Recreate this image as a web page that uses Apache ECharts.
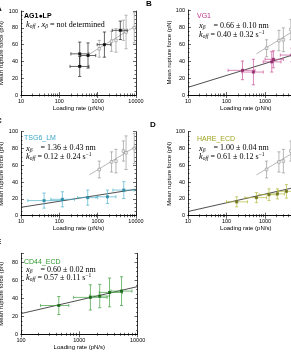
<!DOCTYPE html>
<html>
<head>
<meta charset="utf-8">
<script src="https://cdn.jsdelivr.net/npm/echarts@6/dist/echarts.min.js"></script>
<style>
  html, body { margin: 0; padding: 0; background: #fff; }
  #chart { width: 291px; height: 353px; }
</style>
</head>
<body>
<div id="chart"></div>
<script>
const SANS = "Liberation Sans, Arial, sans-serif"
const SERIF = "Liberation Serif, Times New Roman, serif"

// grey reference set, repeated behind panels A-D
const greyRate = [1100, 2300, 3000, 4700, 5500, 9000]
const greyForce = [55, 64, 65, 77, 75, 80]
const greyErr = [10, 12, 14, 12, 20, 18]
const greyFitRate = [600, 10000]
const greyFitForce = [48.5, 82.5]

// A: AG1•LP
const agRate = [340, 340, 560, 1500, 3900]
const agForce = [49, 34, 47, 60, 77]
const agErr = [14, 12, 15, 15, 11]
const agLo = [200, 190, 360, 970, 2400]
const agHi = [590, 590, 890, 2200, 5900]

// B: VG1
const vgRate = [260, 500, 1500, 1650, 5000]
const vgForce = [29, 27, 39, 42, 47]
const vgErr = [11, 15, 12, 10, 8]
const vgLo = [110, 250, 900, 1000, 2500]
const vgHi = [550, 900, 2600, 3000, 11000]
const vgFitRate = [10, 10000]
const vgFitForce = [9, 51]

// C: TSG6_LM
const tsgRate = [40, 120, 550, 1800, 4800]
const tsgForce = [18, 19.5, 21.5, 22.5, 30.5]
const tsgErr = [9, 9, 9, 8, 10]
const tsgLo = [15, 60, 300, 900, 2500]
const tsgHi = [110, 250, 1000, 3000, 9000]
const tsgFitRate = [10, 10000]
const tsgFitForce = [10, 31.5]

// D: HARE_ECD
const hareRate = [184, 600, 1270, 2100, 3600]
const hareForce = [16.5, 21.5, 25, 26, 29]
const hareErr = [6, 6, 7, 6, 8]
const hareLo = [100, 300, 700, 1200, 2200]
const hareHi = [350, 1100, 2000, 3200, 6000]
const hareFitRate = [10, 10000]
const hareFitForce = [5, 36]

// E: CD44_ECD
const cdRate = [445, 1550, 2240, 3300, 5300]
const cdForce = [32, 41, 42.5, 46.5, 48]
const cdErr = [10, 14, 13, 16, 16]
const cdLo = [216, 800, 1500, 2200, 3500]
const cdHi = [660, 3000, 3300, 5500, 8000]
const cdFitRate = [100, 10000]
const cdFitForce = [23, 53]

function pairs(xs, ys) {
  return xs.map((x, i) => [x, ys[i]])
}

function bars(rate, force, err, lo, hi) {
  return rate.map((r, i) => [r, force[i], force[i] - err[i], force[i] + err[i], lo ? lo[i] : r, hi ? hi[i] : r])
}

function errorBars(params, api) {
  const x = api.value(0)
  const y = api.value(1)
  const a = api.coord([x, api.value(2)])
  const b = api.coord([x, api.value(3)])
  const c = api.coord([api.value(4), y])
  const d = api.coord([api.value(5), y])
  const st = { stroke: api.visual("color"), lineWidth: 0.7 }
  const cap = 1.6
  const kids = [
    { type: "line", shape: { x1: a[0], y1: a[1], x2: b[0], y2: b[1] }, style: st },
    { type: "line", shape: { x1: a[0] - cap, y1: a[1], x2: a[0] + cap, y2: a[1] }, style: st },
    { type: "line", shape: { x1: b[0] - cap, y1: b[1], x2: b[0] + cap, y2: b[1] }, style: st }
  ]
  if (d[0] - c[0] > 1) {
    kids.push({ type: "line", shape: { x1: c[0], y1: c[1], x2: d[0], y2: d[1] }, style: st })
    kids.push({ type: "line", shape: { x1: c[0], y1: c[1] - cap, x2: c[0], y2: c[1] + cap }, style: st })
    kids.push({ type: "line", shape: { x1: d[0], y1: d[1] - cap, x2: d[0], y2: d[1] + cap }, style: st })
  }
  return { type: "group", children: kids }
}

// panels B and D run past the right edge, as in the cropped original
const grids = [
  { left: 21, top: 11, width: 115, height: 84, outerBoundsMode: "none", containLabel: false },
  { left: 188, top: 10, width: 115.5, height: 85, outerBoundsMode: "none", containLabel: false },
  { left: 21, top: 131.7, width: 115, height: 84, outerBoundsMode: "none", containLabel: false },
  { left: 188, top: 131.7, width: 115.5, height: 84, outerBoundsMode: "none", containLabel: false },
  { left: 21, top: 253.3, width: 116.6, height: 81, outerBoundsMode: "none", containLabel: false }
]
const xRange = [[10, 10000], [10, 10000], [10, 10000], [10, 10000], [100, 10000]]
const yMax = [100, 100, 100, 100, 90]
const yNameGap = [17, 11, 17, 11, 17]

const line = { color: "#000", width: 0.8 }
const tickStyle = { color: "#000", width: 0.6 }

const xAxis = []
const yAxis = []
grids.forEach((g, i) => {
  const base = {
    type: "log", logBase: 10, gridIndex: i, min: xRange[i][0], max: xRange[i][1],
    axisLine: { lineStyle: line },
    axisTick: { inside: true, length: 3, lineStyle: tickStyle },
    minorTick: { show: true, splitNumber: 9, length: 1.5, lineStyle: tickStyle },
    splitLine: { show: false }
  }
  xAxis.push(Object.assign({}, base, {
    position: "bottom",
    axisLabel: { fontSize: 5.5, fontFamily: SANS, color: "#000", margin: 3, formatter: (v) => String(Math.round(v)) },
    name: "Loading rate (pN/s)", nameLocation: "middle", nameGap: 9,
    nameTextStyle: { fontSize: 6, fontFamily: SANS, color: "#000" }
  }))
  xAxis.push(Object.assign({}, base, { position: "top", axisLabel: { show: false } }))
  const ybase = {
    type: "value", gridIndex: i, min: 0, max: yMax[i], interval: 20,
    axisLine: { lineStyle: line },
    axisTick: { inside: true, length: 3, lineStyle: tickStyle },
    minorTick: { show: true, splitNumber: 4, length: 1.5, lineStyle: tickStyle },
    splitLine: { show: false }
  }
  yAxis.push(Object.assign({}, ybase, {
    position: "left",
    axisLabel: { fontSize: 5.5, fontFamily: SANS, color: "#000", margin: 3, showMaxLabel: yMax[i] === 100 },
    name: "Mean rupture force (pN)", nameLocation: "middle", nameGap: yNameGap[i],
    nameTextStyle: { fontSize: 6, fontFamily: SANS, color: "#000" }
  }))
  yAxis.push(Object.assign({}, ybase, { position: "right", axisLabel: { show: false } }))
})

const series = []
function addPanel(i, opts) {
  const ax = { xAxisIndex: 2 * i, yAxisIndex: 2 * i }
  if (opts.grey) {
    series.push(Object.assign({ type: "line", data: pairs(greyFitRate, greyFitForce), symbol: "none",
      lineStyle: { color: "#9a9a9a", width: 0.7 }, z: 2 }, ax))
    series.push(Object.assign({ type: "custom", renderItem: errorBars, itemStyle: { color: "#9a9a9a" },
      data: bars(greyRate, greyForce, greyErr), z: 3 }, ax))
    series.push(Object.assign({ type: "scatter", data: pairs(greyRate, greyForce), symbol: "rect", symbolSize: 2.6,
      itemStyle: { color: "#fff", borderColor: "#777", borderWidth: 0.6 }, z: 4 }, ax))
  }
  if (opts.fitRate) {
    series.push(Object.assign({ type: "line", data: pairs(opts.fitRate, opts.fitForce), symbol: "none",
      lineStyle: { color: "#222", width: 0.8 }, z: 5 }, ax))
  }
  series.push(Object.assign({ type: "custom", renderItem: errorBars, itemStyle: { color: opts.barColor },
    data: bars(opts.rate, opts.force, opts.err, opts.lo, opts.hi), z: 6 }, ax))
  series.push(Object.assign({ type: "scatter", data: pairs(opts.rate, opts.force), symbol: "rect", symbolSize: 3,
    itemStyle: { color: opts.dotColor }, z: 7 }, ax))
}

addPanel(0, { grey: true, rate: agRate, force: agForce, err: agErr, lo: agLo, hi: agHi, barColor: "#222", dotColor: "#000" })
addPanel(1, { grey: true, rate: vgRate, force: vgForce, err: vgErr, lo: vgLo, hi: vgHi, fitRate: vgFitRate, fitForce: vgFitForce, barColor: "#c8509a", dotColor: "#8a1f62" })
addPanel(2, { grey: true, rate: tsgRate, force: tsgForce, err: tsgErr, lo: tsgLo, hi: tsgHi, fitRate: tsgFitRate, fitForce: tsgFitForce, barColor: "#4fb3cf", dotColor: "#1d7e98" })
addPanel(3, { grey: true, rate: hareRate, force: hareForce, err: hareErr, lo: hareLo, hi: hareHi, fitRate: hareFitRate, fitForce: hareFitForce, barColor: "#b4ba3a", dotColor: "#5f6410" })
addPanel(4, { grey: false, rate: cdRate, force: cdForce, err: cdErr, lo: cdLo, hi: cdHi, fitRate: cdFitRate, fitForce: cdFitForce, barColor: "#3f9f3f", dotColor: "#125d12" })

const rich = {
  i: { fontFamily: SERIF, fontStyle: "italic", fontSize: 8.5, fill: "#000" },
  s: { fontFamily: SERIF, fontStyle: "italic", fontSize: 5.5, fill: "#000", padding: [4, 0, 0, 0] },
  t: { fontFamily: SERIF, fontSize: 8, fill: "#000" },
  u: { fontFamily: SERIF, fontSize: 5.5, fill: "#000", padding: [0, 0, 4, 0] }
}

function label(x, y, text, color, bold) {
  return { type: "text", x: x, y: y, style: { text: text, fill: color, font: (bold ? "bold " : "") + "7px " + SANS, verticalAlign: "middle" } }
}
function formula(x, y, text) {
  return { type: "text", x: x, y: y, style: { text: text, rich: rich, verticalAlign: "middle" } }
}
function letter(x, y, t) {
  return { type: "text", x: x, y: y, style: { text: t, font: "bold 8px " + SANS, fill: "#000", verticalAlign: "middle" } }
}

const graphic = [
  letter(-4, 9, "A"), letter(146, 4, "B"), letter(-4, 121, "C"), letter(150, 125, "D"), letter(-4, 242, "E"),
  label(24, 16, "AG1\u25CFLP", "#000", true),
  formula(26, 25, "{i|k}{s|off}{t| , }{i|x}{s|\u03B2}{t| = not determined}"),
  label(197, 16, "VG1", "#c0308a", false),
  formula(199, 26, "{i|x}{s|\u03B2}{t|    = 0.66 \u00B1 0.10 nm}"),
  formula(199, 34.5, "{i|k}{s|off}{t| = 0.40 \u00B1 0.32 s}{u|\u22121}"),
  label(24, 138, "TSG6_LM", "#3aa6c8", false),
  formula(26, 148.3, "{i|x}{s|\u03B2}{t|    = 1.36 \u00B1 0.43 nm}"),
  formula(26, 157, "{i|k}{s|off}{t| = 0.12 \u00B1 0.24 s}{u|\u22121}"),
  label(197, 139, "HARE_ECD", "#9ea41e", false),
  formula(199, 148.3, "{i|x}{s|\u03B2}{t|    = 1.00 \u00B1 0.04 nm}"),
  formula(199, 157, "{i|k}{s|off}{t| = 0.61 \u00B1 0.12 s}{u|\u22121}"),
  label(24, 262, "CD44_ECD", "#2f9a2f", false),
  formula(26, 269.5, "{i|x}{s|\u03B2}{t|    = 0.60 \u00B1 0.02 nm}"),
  formula(26, 277.5, "{i|k}{s|off}{t| = 0.57 \u00B1 0.11 s}{u|\u22121}")
]

const myChart = echarts.init(document.getElementById("chart"), null, { renderer: "canvas" })
myChart.setOption({
  animation: false,
  grid: grids,
  xAxis: xAxis,
  yAxis: yAxis,
  series: series,
  graphic: graphic
})
</script>
</body>
</html>
